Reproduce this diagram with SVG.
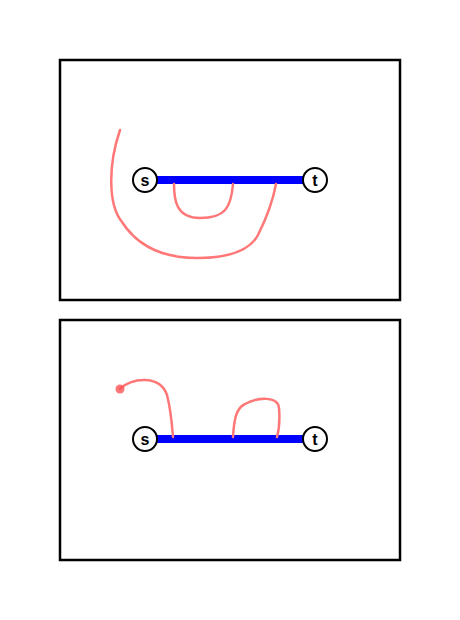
<svg xmlns="http://www.w3.org/2000/svg" width="460" height="620" viewBox="0 0 460 620">
<style>
.frame{fill:none;stroke:#000;stroke-width:2.5}
.edge{stroke:#0000ff;stroke-width:8;fill:none}
.curve{fill:none;stroke:#ff7777;stroke-width:2.5;stroke-linecap:round}
.node circle{fill:#fff;stroke:#000;stroke-width:2}
.node text{font-family:"Liberation Sans",Arial,sans-serif;font-size:16px;font-weight:bold;text-anchor:middle;dominant-baseline:central;fill:#000}
</style>
<rect width="460" height="620" fill="#fff"/>
<rect class="frame" x="60" y="60" width="340" height="240"/>
<rect class="frame" x="60" y="320" width="340" height="240"/>
<g id="connectors">
<line class="edge" x1="157" y1="180" x2="303" y2="180"/>
<path class="curve" d="M120,130 C108,165 108,205 122,222 C140,250 170,258 197,258 C230,258 250,250 258,235 C268,215 274,195 276,184"/>
<path class="curve" d="M174,184 C174,200 176,218 200,218 C225,218 231,208 233,184"/>
<line class="edge" x1="157" y1="439" x2="303" y2="439"/>
<path class="curve" d="M120,389 C130,378 160,374 167,395 C171,410 172,425 173,437"/>
<path class="curve" d="M233,437 C234,420 236,408 245,404 C258,397 278,396 279,408 C280,420 279,430 277,437"/>
<circle cx="120" cy="389" r="4.5" fill="#ff5555" opacity="0.8"/>
</g>
<g id="s1" class="node"><circle cx="145" cy="180" r="12"/><text x="145" y="180">s</text></g>
<g id="t1" class="node"><circle cx="315" cy="180" r="12"/><text x="315" y="180">t</text></g>
<g id="s2" class="node"><circle cx="145" cy="439" r="12"/><text x="145" y="439">s</text></g>
<g id="t2" class="node"><circle cx="315" cy="439" r="12"/><text x="315" y="439">t</text></g>
</svg>
